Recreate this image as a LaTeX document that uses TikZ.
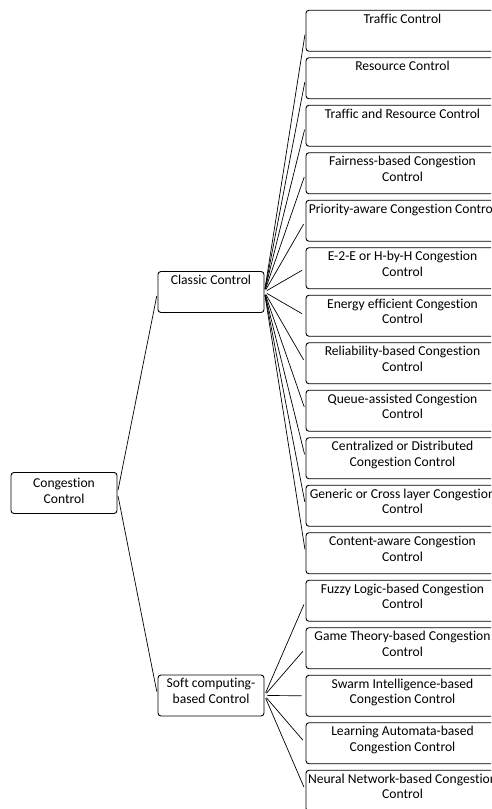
\documentclass[tikz,border=0pt]{standalone}
\usepackage{fontspec}
\setmainfont{Carlito}[Ligatures=NoCommon]
\usetikzlibrary{arrows}

\tikzset{
  box/.style={rectangle, rounded corners=3pt, draw, line width=0.9pt, align=center,
    minimum height=41pt, inner sep=2pt, text depth=9pt,
    font=\fontsize{13.6}{15.5}\selectfont},
  leaf/.style={box, minimum width=193pt},
  inner/.style={box, minimum width=106pt},
  link/.style={line width=0.7pt, shorten <=3pt, shorten >=4pt}
}

\begin{document}
\begin{tikzpicture}[x=1pt, y=-1pt]
\clip (0,0) rectangle (491,809);

\node[box, minimum width=106pt, text depth=4pt] (congestion) at (64,493) {Congestion\\Control};

\node[inner] (classic) at (211,292) {Classic Control\\\mbox{}};
\node[inner] (soft) at (211,695.5) {Soft computing-\\based Control};

% classic control
\node[leaf] (traffic) at (402.5,30.75) {Traffic Control\\\mbox{}};
\node[leaf] (resource) at (402.5,78.25) {Resource Control\\\mbox{}};
\node[leaf] (trafres) at (402.5,125.75) {Traffic and Resource Control\\\mbox{}};
\node[leaf] (fairness) at (402.5,173.25) {Fairness-based Congestion\\Control};
\node[leaf] (priority) at (402.5,220.75) {Priority-aware Congestion Control\\\mbox{}};
\node[leaf] (etoe) at (402.5,268.25) {E-2-E or H-by-H Congestion\\Control};
\node[leaf] (energy) at (402.5,315.75) {Energy efficient Congestion\\Control};
\node[leaf] (reliability) at (402.5,363.25) {Reliability-based Congestion\\Control};
\node[leaf] (queue) at (402.5,410.75) {Queue-assisted Congestion\\Control};
\node[leaf] (central) at (402.5,458.25) {Centralized or Distributed\\Congestion Control};
\node[leaf] (generic) at (402.5,505.75) {Generic or Cross layer Congestion\\Control};
\node[leaf] (content) at (402.5,553.25) {Content-aware Congestion\\Control};

% soft computing
\node[leaf] (fuzzy) at (402.5,600.75) {Fuzzy Logic-based Congestion\\Control};
\node[leaf] (game) at (402.5,648.25) {Game Theory-based Congestion\\Control};
\node[leaf] (swarm) at (402.5,695.75) {Swarm Intelligence-based\\Congestion Control};
\node[leaf] (automata) at (402.5,743.25) {Learning Automata-based\\Congestion Control};
\node[leaf] (neural) at (402.5,790.75) {Neural Network-based Congestion\\Control};

\draw[link] (congestion.east) -- (classic.west);
\draw[link] (congestion.east) -- (soft.west);

\foreach \child in {traffic,resource,trafres,fairness,priority,etoe,energy,reliability,queue,central,generic,content}
  \draw[link] (classic.east) -- (\child.west);

\foreach \child in {fuzzy,game,swarm,automata,neural}
  \draw[link] (soft.east) -- (\child.west);

\end{tikzpicture}
\end{document}
